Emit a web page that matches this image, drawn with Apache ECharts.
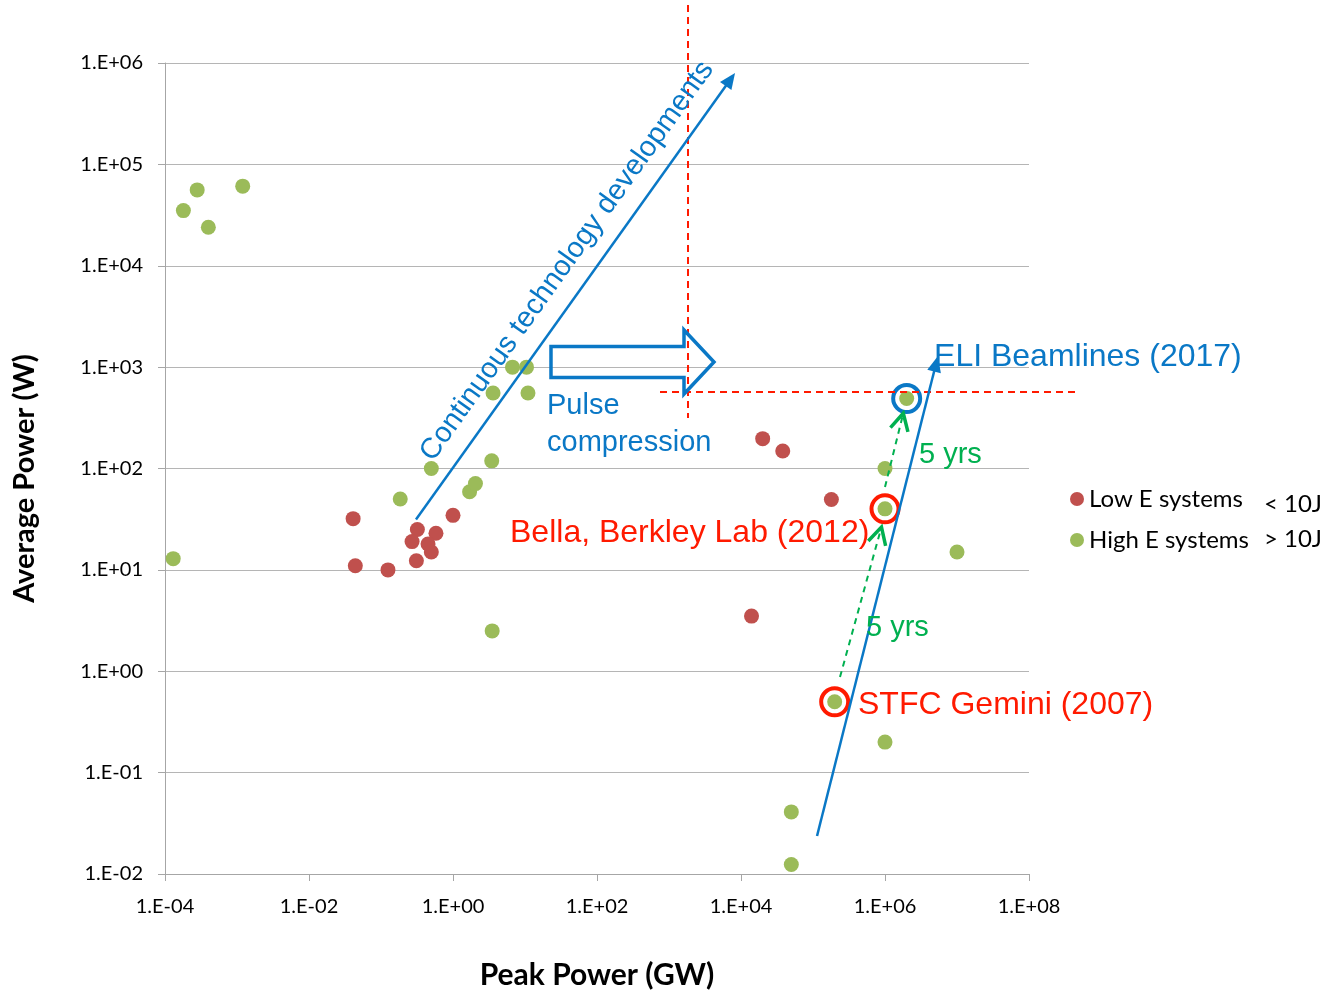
<!DOCTYPE html>
<html><head><meta charset="utf-8">
<script src="https://cdn.jsdelivr.net/npm/echarts@6/dist/echarts.min.js"></script>
<style>html,body{margin:0;padding:0;background:#fff}#c{width:1326px;height:995px}</style>
</head><body><div id="c"></div>
<script>
// ---------- DATA ----------
const lowEName = 'Low E systems';
const highEName = 'High E systems';
const lowEPeakGW = [0.041, 0.044, 0.125, 0.32, 0.27, 0.58, 0.45, 0.50, 0.31, 1.0, 2.0e4, 3.8e4, 1.8e5, 1.4e4];
const lowEAvgW   = [32, 11, 10, 25, 19, 23, 18, 15, 12.3, 34.5, 197, 149, 49.5, 3.5];
const highEPeakGW = [1.8e-4, 2.8e-4, 4.0e-4, 1.2e-3, 1.3e-4, 0.185, 0.5, 1.7, 2.05, 3.45, 3.6, 6.7, 10.5, 11, 3.5, 2.0e6, 1.0e6, 1.0e6, 1.0e7, 2.0e5, 1.0e6, 5.0e4, 5.0e4];
const highEAvgW   = [3.5e4, 5.6e4, 2.4e4, 6.1e4, 12.9, 50, 100, 59, 71, 119, 556, 1000, 1000, 556, 2.5, 490, 100, 40, 15, 0.5, 0.2, 0.041, 0.0124];
// highlighted systems: ELI Beamlines (2017), Bella (2012), STFC Gemini (2007)
const highlightPeakGW = [2.0e6, 1.0e6, 2.0e5];
const highlightAvgW   = [490, 40, 0.5];
const xTickExponents = [-4, -2, 0, 2, 4, 6, 8];
const xTickLabels = ['1.E-04', '1.E-02', '1.E+00', '1.E+02', '1.E+04', '1.E+06', '1.E+08'];
const yTickExponents = [-2, -1, 0, 1, 2, 3, 4, 5, 6];
const yTickLabels = ['1.E-02', '1.E-01', '1.E+00', '1.E+01', '1.E+02', '1.E+03', '1.E+04', '1.E+05', '1.E+06'];
const legendExtras = ['< 10J', '> 10J'];

// ---------- ANNOTATION ANCHORS (log10 data coordinates) ----------
const ANN = {
  limitV: [[3.264, 6.572], [3.264, 2.498]],
  limitH: [[2.875, 2.755], [8.639, 2.755]],
  trendArrow: [[-0.514, 1.497], [3.917, 5.901]],
  trendText: [1.583, 4.047],
  pulseArrow: [[1.361, 3.051], [3.625, 3.051]],
  pulseText1: [1.306, 2.621],
  pulseText2: [1.306, 2.256],
  eliArrow: [[5.056, -1.625], [6.736, 3.110]],
  eliText: [6.681, 3.100],
  bellaText: [0.792, 1.364],
  stfcText: [5.625, -0.333],
  green1: [[5.375, -0.057], [5.951, 1.423]],
  green2: [[6.0, 1.817], [6.254, 2.545]],
  yrs1: [6.472, 2.133],
  yrs2: [5.736, 0.426]
};

// ---------- CHART ----------
const FONT_UI = 'Lato, "Noto Sans", sans-serif';
const FONT_ANN = '"Liberation Sans", Arial, sans-serif';
const BLUE = '#0a78c6', RED = '#ff1a00', GREEN = '#00b050';
const chart = echarts.init(document.getElementById('c'));
const lg = Math.log10;
function fmt(exps, labels) { return v => { const i = exps.indexOf(Math.round(v)); return i >= 0 ? labels[i] : ''; }; }

chart.setOption({
  animation: false,
  grid: {left: 165, top: 63, width: 864, height: 811},
  xAxis: {
    type: 'value', min: -4, max: 8, interval: 2,
    axisLine: {show: true, onZero: false, lineStyle: {color: '#a6a6a6', width: 1}},
    axisTick: {show: true, length: 7, lineStyle: {color: '#a6a6a6'}},
    splitLine: {show: false},
    axisLabel: {formatter: fmt(xTickExponents, xTickLabels), margin: 23, color: '#000', fontSize: 20, fontFamily: FONT_UI},
    name: 'Peak Power (GW)', nameLocation: 'middle', nameGap: 86,
    nameTextStyle: {fontWeight: 'bold', fontSize: 30, color: '#000', fontFamily: FONT_UI}
  },
  yAxis: {
    type: 'value', min: -2, max: 6, interval: 1,
    axisLine: {show: true, onZero: false, lineStyle: {color: '#a6a6a6', width: 1}},
    axisTick: {show: true, length: 7, lineStyle: {color: '#a6a6a6'}},
    splitLine: {show: true, lineStyle: {color: '#b5b5b5', width: 1}},
    axisLabel: {formatter: fmt(yTickExponents, yTickLabels), margin: 22, color: '#000', fontSize: 20, fontFamily: FONT_UI},
    name: 'Average Power (W)', nameLocation: 'middle', nameGap: 126,
    nameTextStyle: {fontWeight: 'bold', fontSize: 29, color: '#000', fontFamily: FONT_UI, padding: [0, 20, 0, 0]}
  },
  legend: {
    data: [lowEName, highEName], orient: 'vertical', left: 1065, top: 482,
    itemWidth: 14, itemHeight: 14, itemGap: 17, icon: 'circle',
    textStyle: {fontSize: 24, color: '#000', fontFamily: FONT_UI}
  },
  series: [
    {name: lowEName, type: 'scatter', symbolSize: 15, itemStyle: {color: '#c0504d', opacity: 1},
     data: lowEPeakGW.map((x, i) => [lg(x), lg(lowEAvgW[i])])},
    {name: highEName, type: 'scatter', symbolSize: 15, itemStyle: {color: '#9bbb59', opacity: 1},
     data: highEPeakGW.map((x, i) => [lg(x), lg(highEAvgW[i])])},
    {name: 'highlight', type: 'scatter', symbolSize: 27, silent: true, z: 5,
     data: highlightPeakGW.map((x, i) => ({value: [lg(x), lg(highlightAvgW[i])],
       itemStyle: {color: 'rgba(0,0,0,0)', borderColor: i === 0 ? BLUE : RED, borderWidth: 4, opacity: 1}}))}
  ]
});

function P(c) { return chart.convertToPixel({gridIndex: 0}, c); }
function head(from, tip, len, half) {
  const dx = tip[0] - from[0], dy = tip[1] - from[1], d = Math.hypot(dx, dy), ux = dx / d, uy = dy / d;
  const bx = tip[0] - ux * len, by = tip[1] - uy * len;
  return {pts: [[bx - uy * half, by + ux * half], [tip[0], tip[1]], [bx + uy * half, by - ux * half]], base: [bx, by]};
}
const g = [];
function line(a, b, style) { g.push({type: 'line', z: 10, shape: {x1: a[0], y1: a[1], x2: b[0], y2: b[1]}, style: style}); }
function text(p, str, opt) {
  g.push({type: 'text', z: 10, x: p[0], y: p[1], rotation: opt.rotation || 0,
    style: {text: str, fill: opt.color, fontSize: opt.size, fontFamily: opt.font || FONT_ANN,
      align: opt.align || 'left', verticalAlign: 'middle'}});
}
function solidArrow(seg) {
  const a = P(seg[0]), b = P(seg[1]);
  const h = head(a, b, 16, 7);
  line(a, [(h.base[0] + b[0]) / 2, (h.base[1] + b[1]) / 2], {stroke: BLUE, lineWidth: 2.5});
  g.push({type: 'polygon', z: 10, shape: {points: h.pts}, style: {fill: BLUE}});
}
function dashedArrow(seg) {
  const a = P(seg[0]), b = P(seg[1]);
  line(a, b, {stroke: GREEN, lineWidth: 2, lineDash: [6, 5]});
  const h = head(a, b, 17, 9);
  g.push({type: 'polyline', z: 10, shape: {points: h.pts}, style: {stroke: GREEN, lineWidth: 3.5, fill: null}});
}

// red limit lines
line(P(ANN.limitV[0]), P(ANN.limitV[1]), {stroke: RED, lineWidth: 2, lineDash: [7, 5]});
line(P(ANN.limitH[0]), P(ANN.limitH[1]), {stroke: RED, lineWidth: 2, lineDash: [7, 5]});
// trend arrow + text
solidArrow(ANN.trendArrow);
{
  const a = P(ANN.trendArrow[0]), b = P(ANN.trendArrow[1]);
  const ang = Math.atan2(a[1] - b[1], b[0] - a[0]);
  text(P(ANN.trendText), 'Continuous technology developments', {color: BLUE, size: 29, align: 'center', rotation: ang});
}
// pulse compression block arrow
{
  const l = P(ANN.pulseArrow[0]), t = P(ANN.pulseArrow[1]);
  const sh = 15.5, hh = 32, hl = 30;
  g.push({type: 'polygon', z: 10, shape: {points: [
    [l[0], l[1] - sh], [t[0] - hl, l[1] - sh], [t[0] - hl, t[1] - hh], [t[0], t[1]],
    [t[0] - hl, t[1] + hh], [t[0] - hl, l[1] + sh], [l[0], l[1] + sh]]},
    style: {fill: null, stroke: BLUE, lineWidth: 3.5, lineJoin: 'miter'}});
}
text(P(ANN.pulseText1), 'Pulse', {color: BLUE, size: 29});
text(P(ANN.pulseText2), 'compression', {color: BLUE, size: 29});
// ELI
solidArrow(ANN.eliArrow);
text(P(ANN.eliText), 'ELI Beamlines (2017)', {color: BLUE, size: 32});
text(P(ANN.bellaText), 'Bella, Berkley Lab (2012)', {color: RED, size: 32});
text(P(ANN.stfcText), 'STFC Gemini (2007)', {color: RED, size: 32});
dashedArrow(ANN.green1);
dashedArrow(ANN.green2);
text(P(ANN.yrs1), '5 yrs', {color: GREEN, size: 29});
text(P(ANN.yrs2), '5 yrs', {color: GREEN, size: 29});
// legend energy notes
g.push({type: 'text', z: 10, right: 4, top: 492, style: {text: legendExtras[0], fill: '#000', fontSize: 24, fontFamily: FONT_UI}});
g.push({type: 'text', z: 10, right: 4, top: 527, style: {text: legendExtras[1], fill: '#000', fontSize: 24, fontFamily: FONT_UI}});

chart.setOption({graphic: g});
</script>
</body></html>
